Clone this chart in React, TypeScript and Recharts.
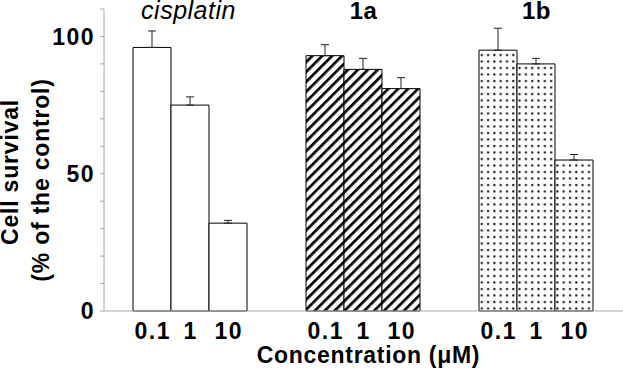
import React from 'react';
import { BarChart, Bar, XAxis, YAxis, Cell, ErrorBar, LabelList, Label } from 'recharts';

const groups = ['cisplatin', '1a', '1b'];
const concentrations = ['0.1', '1', '10'];

// cell survival (% of control), one array per concentration, ordered as groups
const survival01 = [96, 93, 95];
const survival1 = [75, 88, 90];
const survival10 = [32, 81, 55];

// upper error (SD) for each bar
const sd01 = [6, 4, 8];
const sd1 = [3, 4, 2];
const sd10 = [1, 4, 2];

const yTicks = [0, 10, 20, 30, 40, 50, 60, 70, 80, 90, 100, 110];
const yLabelled = [0, 50, 100];

const groupFills = ['#ffffff', 'url(#stripes)', 'url(#dots)'];

const FONT = '"Liberation Sans", Arial, Helvetica, sans-serif';

const data = groups.map((g, i) => ({
  group: g,
  c01: survival01[i],
  c1: survival1[i],
  c10: survival10[i],
  e01: [0, sd01[i]],
  e1: [0, sd1[i]],
  e10: [0, sd10[i]],
}));

function GroupTick(props: any) {
  const { x, payload } = props;
  const name = payload.value as string;
  const italic = name === 'cisplatin';
  return (
    <text
      x={x - (italic ? 2 : 0)}
      y={19}
      textAnchor="middle"
      fontFamily={FONT}
      fontSize={italic ? 25 : 24}
      fontStyle={italic ? 'italic' : 'normal'}
      fontWeight={italic ? 'normal' : 'bold'}
      letterSpacing={italic ? 0.5 : 0.5}
      fill="#000"
    >
      {name}
    </text>
  );
}

// concentration label drawn under each bar
const concLabel = (text: string) => (props: any) => {
  const x = Number(props.x);
  const y = Number(props.y);
  const w = Number(props.width);
  const h = Number(props.height);
  return (
    <text
      x={x + w / 2 + 0.75}
      y={y + h + 28}
      textAnchor="middle"
      fontFamily={FONT}
      fontSize={23}
      fontWeight="bold"
      letterSpacing={1.5}
      fill="#000"
    >
      {text}
    </text>
  );
};

function XTitle(props: any) {
  const vb = props.viewBox;
  return (
    <text
      x={vb.x + vb.width / 2 + 5}
      y={vb.y + 52}
      textAnchor="middle"
      fontFamily={FONT}
      fontSize={23}
      fontWeight="bold"
      letterSpacing={0.7}
      fill="#000"
    >
      Concentration (μM)
    </text>
  );
}

function YTitle(props: any) {
  const vb = props.viewBox;
  const cy = vb.y + vb.height / 2 + 16;
  return (
    <g fontFamily={FONT} fontSize={23} fontWeight="bold" fill="#000" letterSpacing={0.8}>
      <text x={18} y={cy - 4} textAnchor="middle" transform={`rotate(-90 18 ${cy - 4})`}>
        Cell survival
      </text>
      <text x={49} y={cy + 4} textAnchor="middle" transform={`rotate(-90 49 ${cy + 4})`}>
        (% of the control)
      </text>
    </g>
  );
}

export default function App() {
  const series = [
    { key: 'c01', err: 'e01' },
    { key: 'c1', err: 'e1' },
    { key: 'c10', err: 'e10' },
  ];
  return (
    <div style={{ position: 'absolute', left: 0, top: 0, width: 623, height: 378, background: '#fff' }}>
      <BarChart
        width={623}
        height={378}
        data={data}
        margin={{ top: 9, right: 0, bottom: 0, left: 0 }}
        barGap={0}
        barCategoryGap={29}
      >
        <defs>
          <pattern id="stripes" width={7} height={7} patternUnits="userSpaceOnUse" patternTransform="rotate(45)">
            <rect x={0} y={0} width={7} height={7} fill="#fff" />
            <rect x={0} y={0} width={2.7} height={7} fill="#000" />
          </pattern>
          <pattern id="dots" width={6.3} height={6.5} patternUnits="userSpaceOnUse">
            <rect x={0} y={0} width={6.3} height={6.5} fill="#fff" />
            <rect x={2} y={2} width={2} height={2} fill="#000" />
          </pattern>
        </defs>
        <XAxis
          dataKey="group"
          height={67}
          axisLine={{ stroke: '#aaa' }}
          tickLine={false}
          tick={<GroupTick />}
          interval={0}
        >
          <Label content={<XTitle />} />
        </XAxis>
        <YAxis
          width={104}
          domain={[0, 110]}
          ticks={yTicks}
          interval={0}
          axisLine={{ stroke: '#aaa' }}
          tickLine={{ stroke: '#aaa' }}
          tickSize={4}
          tickMargin={5}
          tick={{ fontSize: 23, fontWeight: 'bold', fill: '#000', fontFamily: FONT, letterSpacing: 1.5 }}
          tickFormatter={(v: number) => (yLabelled.includes(v) ? String(v) : '')}
        >
          <Label content={<YTitle />} />
        </YAxis>
        {series.map((s, si) => (
          <Bar key={s.key} dataKey={s.key} stroke="#000" strokeWidth={1} isAnimationActive={false}>
            {data.map((d, i) => (
              <Cell key={d.group} fill={groupFills[i]} />
            ))}
            <ErrorBar dataKey={s.err} direction="y" width={4} stroke="#222" strokeWidth={1} isAnimationActive={false} />
            <LabelList dataKey={s.key} content={concLabel(concentrations[si])} />
          </Bar>
        ))}
      </BarChart>
    </div>
  );
}
